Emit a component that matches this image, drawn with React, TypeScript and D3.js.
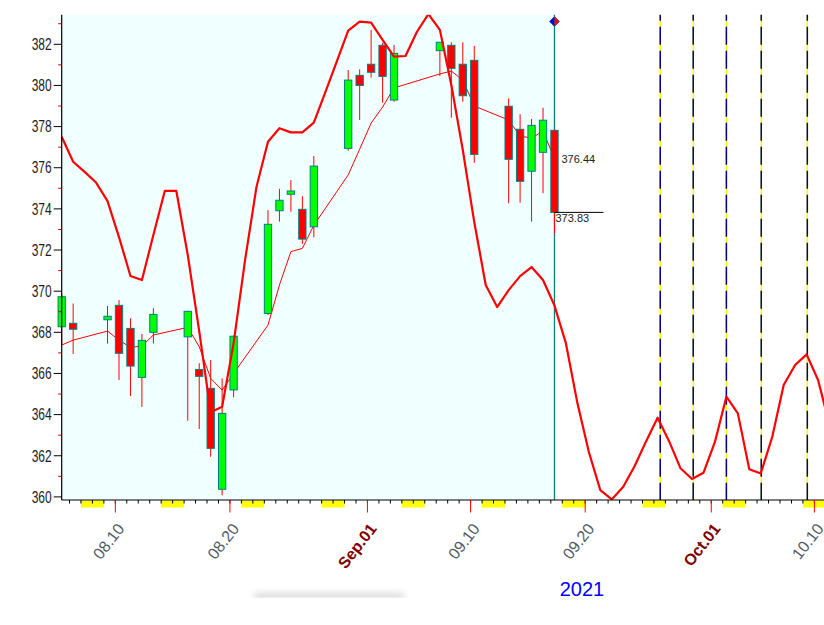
import * as d3 from 'd3'

// trading days shown as candles
const candleDates = [
  '2021-08-05', '2021-08-06', '2021-08-09', '2021-08-10', '2021-08-11', '2021-08-12', '2021-08-13',
  '2021-08-16', '2021-08-17', '2021-08-18', '2021-08-19', '2021-08-20',
  '2021-08-23', '2021-08-24', '2021-08-25', '2021-08-26', '2021-08-27',
  '2021-08-30', '2021-08-31', '2021-09-01', '2021-09-02', '2021-09-03',
  '2021-09-07', '2021-09-08', '2021-09-09', '2021-09-10',
  '2021-09-13', '2021-09-14', '2021-09-15', '2021-09-16', '2021-09-17',
]
const opens = [
  368.27, 368.44, 368.61, 369.31, 368.19, 365.81, 368.0,
  367.78, 366.19, 365.28, 360.37, 365.2,
  368.92, 373.91, 374.71, 373.98, 373.13,
  376.94, 380.49, 381.03, 381.95, 379.29,
  381.69, 381.95, 381.03, 381.22,
  378.99, 377.87, 375.83, 376.75, 377.82,
]
const highs = [
  369.9, 369.4, 369.28, 369.57, 368.68, 367.92, 369.17,
  369.05, 366.5, 366.65, 365.76, 367.85,
  373.94, 374.97, 375.4, 374.62, 376.57,
  380.75, 380.78, 382.7, 382.07, 381.97,
  382.1, 382.1, 382.1, 381.92,
  379.37, 378.6, 378.37, 378.92, 377.85,
]
const lows = [
  367.4, 366.95, 367.46, 365.68, 364.9, 364.38, 367.46,
  363.7, 363.3, 361.95, 360.07, 364.84,
  368.84, 373.38, 373.86, 372.3, 372.62,
  376.83, 378.32, 380.38, 379.16, 379.21,
  380.46, 378.43, 379.21, 376.24,
  374.27, 374.3, 373.38, 374.76, 372.81,
]
const closes = [
  369.73, 368.15, 368.78, 366.98, 366.36, 367.61, 368.87,
  369.02, 365.86, 362.36, 364.06, 367.81,
  373.25, 374.42, 374.87, 372.53, 376.08,
  380.26, 380.0, 380.64, 380.44, 381.56,
  382.1, 380.83, 379.5, 376.65,
  376.41, 375.34, 378.06, 378.31, 373.83,
]
// thin moving average, one value per candle
const maValues = [
  367.38, 367.62, 368.06, 367.62, 367.27, 367.33, 367.87,
  368.24, 367.3, 365.76, 365.19, 366.0,
  368.35, 370.3, 371.92, 372.08, 373.2,
  375.65, 376.9, 378.17, 378.95, 379.88,
  380.56, 380.7, 380.26, 379.0,
  378.32, 377.54, 377.44, 377.78, 376.44,
]

// thick forecast curve, one value per calendar day from forecastStart
const forecastStart = '2021-08-05'
const forecastValues = [
  377.51, 376.29, 375.8, 375.28, 374.38, 372.63, 370.74, 370.54, 372.73, 374.88,
  374.88, 371.76, 368.06, 364.12, 364.38, 367.46, 371.51, 375.08, 377.26, 377.92,
  377.72, 377.72, 378.19, 379.66, 381.16, 382.66, 383.1, 383.05, 382.21, 381.4,
  381.43, 382.61, 383.47, 382.7, 380.02, 376.86, 373.36, 370.3, 369.23, 370.05,
  370.73, 371.17, 370.54, 369.3, 367.46, 364.56, 362.18, 360.33, 359.88, 360.49,
  361.5, 362.71, 363.85, 362.71, 361.39, 360.87, 361.17, 362.67, 364.87, 364.06,
  361.34, 361.14, 362.91, 365.44, 366.41, 366.93, 365.68, 363.5,
]

// dashed cycle lines
const cycleTimes = ['2021-09-26T05:30', '2021-09-29T02:30', '2021-10-02T00:00', '2021-10-05T01:00', '2021-10-09T01:30']

const xTickDates = ['2021-08-10', '2021-08-20', '2021-09-01', '2021-09-10', '2021-09-20', '2021-10-01', '2021-10-10']
const xTickLabels = ['08.10', '08.20', 'Sep.01', '09.10', '09.20', 'Oct.01', '10.10']
const xTickMonth = [false, false, true, false, false, true, false]
const yMajorTicks = [360, 362, 364, 366, 368, 370, 372, 374, 376, 378, 380, 382]
const yMinorTicks = [361, 363, 365, 367, 369, 371, 373, 375, 377, 379, 381, 383]
const yearLabel = '2021'

const W = 824
const H = 625
const plotLeft = 61.7
const plotTop = 14.7
const plotBottom = 500
const dayWidth = 11.46
const tickShift = -0.32 // day ticks sit a little before the candle centres
const font = '"Liberation Sans", Arial, sans-serif'

const parseDay = d3.utcParse('%Y-%m-%d')
const parseTime = d3.utcParse('%Y-%m-%dT%H:%M')
const t0 = parseDay(forecastStart)!.getTime()
const dayIndex = (d: Date) => (d.getTime() - t0) / 864e5

export default function App() {
  const x = d3.scaleLinear().domain([0, 66]).range([plotLeft, plotLeft + 66 * dayWidth])
  const y = d3.scaleLinear().domain([360, 382]).range([496.9, 44.3])

  const candleIdx = candleDates.map((s) => dayIndex(parseDay(s)!))
  const lastX = x(candleIdx[candleIdx.length - 1])
  const bodyW = 7.3

  const forecastLine = d3
    .line<number>()
    .x((_, i) => x(i))
    .y((v) => y(v))
  const maLine = d3
    .line<number>()
    .x((_, i) => x(candleIdx[i]))
    .y((v) => y(v))

  // weekend markers and day ticks along the time axis
  const days = d3.range(-1, 68)
  const weekends = days.filter((i) => {
    const wd = new Date(t0 + i * 864e5).getUTCDay()
    return wd === 0 || wd === 6
  })

  const lastClose = closes[closes.length - 1]
  const lastMa = maValues[maValues.length - 1]

  return (
    <svg width={W} height={H} style={{ position: 'absolute', left: 0, top: 0, background: '#fff' }} fontFamily={font}>
      <defs>
        <clipPath id="plotClip">
          <rect x={plotLeft - 6} y={plotTop} width={W - plotLeft + 6} height={plotBottom - plotTop} />
        </clipPath>
        <clipPath id="axisClip">
          <rect x={plotLeft} y={plotBottom} width={W - plotLeft} height={20} />
        </clipPath>
        <linearGradient id="shadeV" x1="0" y1="0" x2="0" y2="1">
          <stop offset="0" stopColor="#fff" />
          <stop offset="1" stopColor="#dcdcdc" />
        </linearGradient>
        <filter id="soft" x="-10%" y="-50%" width="120%" height="200%">
          <feGaussianBlur stdDeviation="3 1.5" />
        </filter>
      </defs>

      {/* history background */}
      <rect x={plotLeft} y={plotTop} width={lastX - plotLeft} height={plotBottom - plotTop} fill="#f0ffff" />

      {/* cycle lines */}
      {cycleTimes.map((s) => {
        const cx = x(dayIndex(parseTime(s)!))
        return (
          <g key={s}>
            <line x1={cx} x2={cx} y1={plotTop} y2={plotBottom} stroke="#ffff00" strokeWidth={1.5} />
            <line x1={cx} x2={cx} y1={plotTop} y2={plotBottom} stroke="#000080" strokeWidth={1.5} strokeDasharray="18 6" strokeDashoffset={12} />
          </g>
        )
      })}

      {/* current bar marker */}
      <line x1={lastX} x2={lastX} y1={plotTop} y2={plotBottom} stroke="#008080" strokeWidth={1.3} />

      <g clipPath="url(#plotClip)">
        {/* moving average */}
        <path d={maLine(maValues) ?? ''} fill="none" stroke="#ff0000" strokeWidth={1} />

        {/* candles */}
        {candleDates.map((d, i) => {
          const cx = x(candleIdx[i])
          const up = closes[i] >= opens[i]
          const top = y(Math.max(opens[i], closes[i]))
          const bot = y(Math.min(opens[i], closes[i]))
          return (
            <g key={d}>
              <line x1={cx} x2={cx} y1={y(highs[i])} y2={y(lows[i])} stroke="#ff0000" strokeWidth={1} />
              <rect
                x={cx - bodyW / 2}
                y={top}
                width={bodyW}
                height={Math.max(bot - top, 1.5)}
                fill={up ? '#00ff00' : '#ff0000'}
                stroke="#008080"
                strokeWidth={1}
              />
            </g>
          )
        })}

        {/* forecast */}
        <path d={forecastLine(forecastValues) ?? ''} fill="none" stroke="#ff0000" strokeWidth={2.2} strokeLinejoin="round" />
      </g>

      {/* last value labels */}
      <line x1={lastX} x2={lastX + 49} y1={y(lastClose)} y2={y(lastClose)} stroke="#000" strokeWidth={1} />
      <text x={lastX + 7} y={y(lastMa)} dy="0.35em" fontSize={11} fill="#222">
        {lastMa.toFixed(2)}
      </text>
      <text x={lastX + 1} y={y(lastClose) + 10} fontSize={11} fill="#222">
        {lastClose.toFixed(2)}
      </text>

      {/* diamond */}
      <g transform={`translate(${lastX},21.5)`}>
        <path d="M-5,0L0,-5L0,5Z" fill="#0000ff" />
        <path d="M5,0L0,-5L0,5Z" fill="#ff0000" />
        <path d="M-5,0L0,-5L5,0L0,5Z" fill="none" stroke="#006080" strokeWidth={0.8} />
      </g>

      {/* y axis */}
      <line x1={plotLeft} x2={plotLeft} y1={plotTop} y2={plotBottom} stroke="#000" strokeWidth={1.2} />
      {yMinorTicks.map((v) => (
        <line key={v} x1={plotLeft - 3.5} x2={plotLeft} y1={y(v)} y2={y(v)} stroke="#c00000" strokeWidth={1} />
      ))}
      {yMajorTicks.map((v) => (
        <g key={v}>
          <line x1={plotLeft - 8} x2={plotLeft} y1={y(v)} y2={y(v)} stroke="#000" strokeWidth={1} />
          <text
            x={plotLeft - 10}
            y={y(v)}
            dy="0.36em"
            textAnchor="end"
            fontSize={16}
            textLength={20}
            lengthAdjust="spacingAndGlyphs"
            fill="#1c1c28"
          >
            {v}
          </text>
        </g>
      ))}

      {/* x axis */}
      <g clipPath="url(#axisClip)">
        {weekends.map((i) => (
          <rect key={i} x={x(i + tickShift)} y={plotBottom + 0.5} width={dayWidth} height={7} fill="#ffff00" />
        ))}
        {days.map((i) => (
          <line key={i} x1={x(i + tickShift)} x2={x(i + tickShift)} y1={plotBottom} y2={plotBottom + 3.5} stroke="#000" strokeWidth={1} />
        ))}
      </g>
      <line x1={plotLeft} x2={W} y1={plotBottom} y2={plotBottom} stroke="#000" strokeWidth={1.2} />
      {xTickDates.map((s, k) => {
        const tx = x(dayIndex(parseDay(s)!) + tickShift)
        return (
          <g key={s}>
            <line x1={tx} x2={tx} y1={plotBottom} y2={plotBottom + 12.5} stroke="#ff0000" strokeWidth={1} />
            <text
              transform={`translate(${tx + 10},529) rotate(-52)`}
              textAnchor="end"
              fontSize={16}
              fontWeight={xTickMonth[k] ? 'bold' : 'normal'}
              fill={xTickMonth[k] ? '#800000' : '#505a64'}
            >
              {xTickLabels[k]}
            </text>
          </g>
        )
      })}

      <text x={582} y={596} textAnchor="middle" fontSize={20} fill="#0000ff">
        {yearLabel}
      </text>

      {/* faint scrollbar shadow */}
      <rect x={254} y={588} width={150} height={10} fill="url(#shadeV)" filter="url(#soft)" />
      <rect x={240} y={598} width={180} height={10} fill="#fff" />
    </svg>
  )
}
